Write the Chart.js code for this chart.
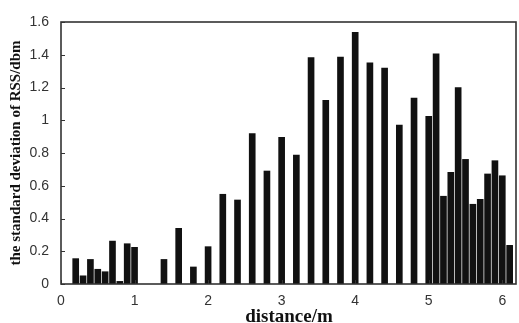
<!DOCTYPE html>
<html>
<head>
<meta charset="utf-8">
<script src="https://cdn.jsdelivr.net/npm/chart.js@4/dist/chart.umd.min.js"></script>
<style>
html,body{margin:0;padding:0;background:#fff;}
#wrap{width:519px;height:323px;position:relative;}
</style>
</head>
<body>
<div id="wrap"><canvas id="c" width="519" height="323"></canvas></div>
<script>
const distances = [0.2,0.3,0.4,0.5,0.6,0.7,0.8,0.9,1.0,1.4,1.6,1.8,2.0,2.2,2.4,2.6,2.8,3.0,3.2,3.4,3.6,3.8,4.0,4.2,4.4,4.6,4.8,5.0,5.1,5.2,5.3,5.4,5.5,5.6,5.7,5.8,5.9,6.0,6.1];
const stdDev = [0.155,0.05,0.15,0.09,0.075,0.262,0.016,0.246,0.224,0.15,0.34,0.104,0.228,0.548,0.513,0.918,0.69,0.896,0.788,1.382,1.122,1.386,1.537,1.35,1.319,0.971,1.136,1.024,1.405,0.536,0.682,1.199,0.761,0.487,0.517,0.672,0.753,0.661,0.236];
const xTicks = [0,1,2,3,4,5,6];
const yTicks = [0,0.2,0.4,0.6,0.8,1,1.2,1.4,1.6];

const points = distances.map((d,i)=>({x:d,y:stdDev[i]}));

const boxPlugin = {
  id:'boxframe',
  afterDraw(chart){
    const ctx = chart.ctx, a = chart.chartArea, scales = chart.scales;
    ctx.save();
    ctx.strokeStyle = '#333333';
    ctx.lineWidth = 1.6;
    ctx.strokeRect(a.left, a.top, a.right - a.left - 1, a.bottom - a.top);
    ctx.lineWidth = 1;
    ctx.beginPath();
    xTicks.forEach(v=>{
      const px = Math.round(scales.x.getPixelForValue(v))+0.5;
      ctx.moveTo(px, a.bottom); ctx.lineTo(px, a.bottom-4);
    });
    yTicks.forEach(v=>{
      const py = Math.round(scales.y.getPixelForValue(v))+0.5;
      ctx.moveTo(a.left, py); ctx.lineTo(a.left+4, py);
    });
    ctx.stroke();
    ctx.restore();
  }
};

new Chart(document.getElementById('c'), {
  type:'bar',
  data:{datasets:[{data:points, backgroundColor:'#111', borderWidth:0, barThickness:6}]},
  options:{
    responsive:false, animation:false,
    layout:{padding:{top:22,right:2,left:0,bottom:0}},
    plugins:{legend:{display:false}, tooltip:{enabled:false}},
    scales:{
      x:{type:'linear', min:0, max:6.2, offset:false,
        grid:{display:false}, border:{display:false},
        afterBuildTicks(s){ s.ticks = xTicks.map(v=>({value:v})); },
        ticks:{color:'#333', font:{family:'Liberation Sans', size:14}, padding:1, maxRotation:0,
          callback:(v)=>String(v)},
        title:{display:true, text:'distance/m', color:'#111', font:{family:'Liberation Serif', size:19, weight:'bold', lineHeight:1}, padding:{top:0,bottom:-4}},
        afterFit(s){ s.height = 39; }
      },
      y:{min:0, max:1.6,
        grid:{display:false}, border:{display:false},
        afterBuildTicks(s){ s.ticks = yTicks.map(v=>({value:v})); },
        ticks:{color:'#333', font:{family:'Liberation Sans', size:14}, padding:4,
          callback:(v)=>String(Math.round(v*10)/10)},
        title:{display:true, text:'the standard deviation of RSS/dbm', color:'#111', font:{family:'Liberation Serif', size:15, weight:'bold', lineHeight:1}, padding:{top:9,bottom:0}},
        afterFit(s){ s.width = 61; }
      }
    }
  },
  plugins:[boxPlugin]
});
</script>
</body>
</html>
